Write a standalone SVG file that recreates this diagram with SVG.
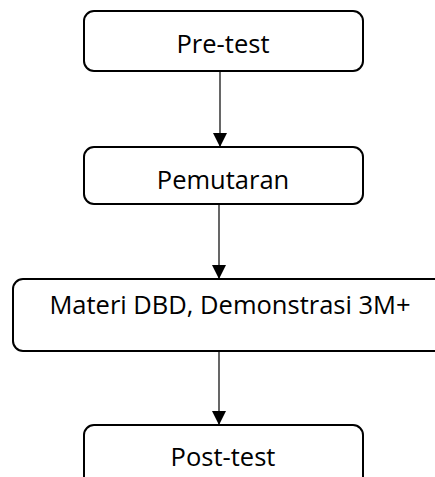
<svg xmlns="http://www.w3.org/2000/svg" width="435" height="477" viewBox="0 0 435 477">
<style>
.box{fill:#fff;stroke:#000;stroke-width:2}
.lbl{font-family:"Open Sans","Liberation Sans",sans-serif;font-size:25.5px;fill:#000;text-anchor:middle}
.conn{stroke:#000;stroke-width:1.2;fill:none}
</style>
<defs>
<marker id="ah" markerUnits="userSpaceOnUse" markerWidth="16" markerHeight="16" refX="14" refY="7" orient="auto">
<path d="M0,0 L14,7 L0,14 Z" fill="#000"/>
</marker>
</defs>
<rect width="435" height="477" fill="#fff"/>
<g id="connectors">
<line class="conn" x1="220" y1="71" x2="220" y2="147" marker-end="url(#ah)"/>
<line class="conn" x1="219" y1="204" x2="219" y2="279" marker-end="url(#ah)"/>
<line class="conn" x1="219" y1="351" x2="219" y2="425" marker-end="url(#ah)"/>
</g>
<g id="n1"><rect class="box" x="84" y="11" width="279" height="60" rx="10"/><text class="lbl" x="223" y="53">Pre-test</text></g>
<g id="n2"><rect class="box" x="84" y="147" width="279" height="57" rx="10"/><text class="lbl" x="223" y="189">Pemutaran</text></g>
<g id="n3"><rect class="box" x="13" y="279" width="440" height="72" rx="10"/><text class="lbl" x="230" y="314">Materi DBD, Demonstrasi 3M+</text></g>
<g id="n4"><rect class="box" x="84" y="425" width="279" height="70" rx="10"/><text class="lbl" x="223" y="466">Post-test</text></g>
</svg>
